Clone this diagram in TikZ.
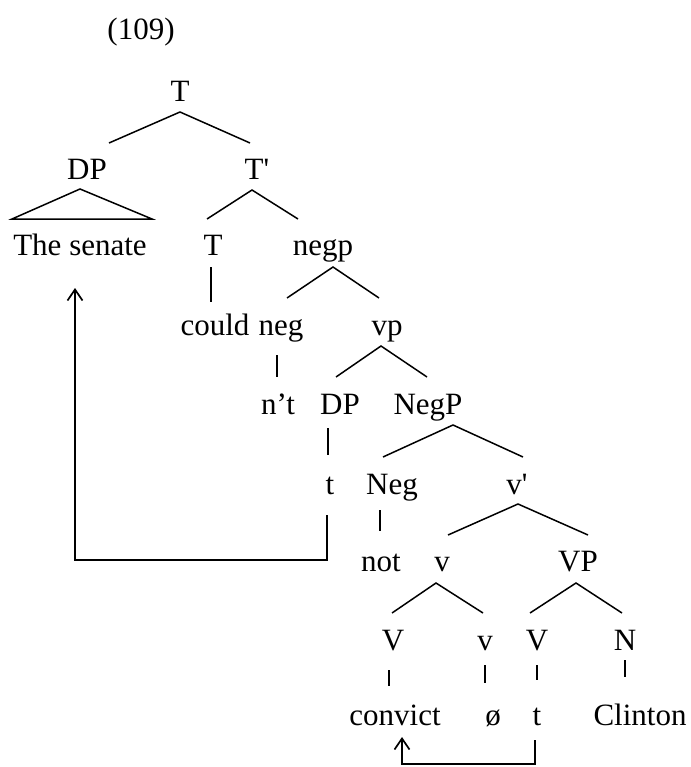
\documentclass[tikz,border=0pt]{standalone}
\usepackage{fontspec}
\setmainfont{Liberation Serif}[Ligatures=TeXOff]
\usetikzlibrary{calc,arrows.meta}
\begin{document}
\begin{tikzpicture}[x=1pt,y=-1pt,
  lbl/.style={anchor=base,inner sep=0pt,font=\fontsize{31}{36}\selectfont},
  edge/.style={line width=1.5pt,line join=miter},
  move/.style={line width=1.7pt,-{Straight Barb[length=11pt,width=15pt,line width=1.7pt]}}]
\useasboundingbox (0,0) rectangle (690,767);

% example number
\node[lbl] (exnum) at (141,40) {(109)};

% tree labels, placed by baseline
\node[lbl] (T0)     at (180,102) {T};
\node[lbl] (DPa)    at (87,180)  {DP};
\node[lbl] (Tbar)   at (257,180) {T'};
\node[lbl] (senate) at (80,255)  {The senate};
\node[lbl] (T1)     at (213,255) {T};
\node[lbl] (negp)   at (323,255) {negp};
\node[lbl] (could)  at (215,335) {could};
\node[lbl] (neg)    at (281,335) {neg};
\node[lbl] (vp)     at (387,335) {vp};
\node[lbl] (nt)     at (278,414) {n’t};
\node[lbl] (DPb)    at (340,414) {DP};
\node[lbl] (NegP)   at (428,414) {NegP};
\node[lbl] (t1)     at (330,494) {t};
\node[lbl] (Neg)    at (392,494) {Neg};
\node[lbl] (vbar)   at (517,494) {v'};
\node[lbl] (not)    at (381,571) {not};
\node[lbl] (v1)     at (442,571) {v};
\node[lbl] (VP)     at (578,571) {VP};
\node[lbl] (V1)     at (393,650) {V};
\node[lbl] (v2)     at (485,650) {v};
\node[lbl] (V2)     at (537,650) {V};
\node[lbl] (N)      at (625,650) {N};
\node[lbl] (convict) at (395,725) {convict};
\node[lbl] (null)   at (493,725) {ø};
\node[lbl] (t2)     at (537,725) {t};
\node[lbl] (Clinton) at (640,725) {Clinton};

% binary branches
\draw[edge] ($(DPa.base)+(22,-37)$) -- ($(T0.base)+(0,10)$) -- ($(Tbar.base)+(-7,-37)$);
\draw[edge] ($(T1.base)+(-6,-36)$) -- ($(Tbar.base)+(-5,10)$) -- ($(negp.base)+(-25,-36)$);
\draw[edge] ($(neg.base)+(6,-37)$) -- ($(negp.base)+(10,12)$) -- ($(vp.base)+(-8,-37)$);
\draw[edge] ($(DPb.base)+(-4,-37)$) -- ($(vp.base)+(-6,11)$) -- ($(NegP.base)+(-1,-37)$);
\draw[edge] ($(Neg.base)+(-9,-37)$) -- ($(NegP.base)+(25,11)$) -- ($(vbar.base)+(6,-37)$);
\draw[edge] ($(v1.base)+(6,-36)$) -- ($(vbar.base)+(1,10)$) -- ($(VP.base)+(10,-36)$);
\draw[edge] ($(V1.base)+(-1,-37)$) -- ($(v1.base)+(-6,12)$) -- ($(v2.base)+(-2,-37)$);
\draw[edge] ($(V2.base)+(-7,-37)$) -- ($(VP.base)+(-2,12)$) -- ($(N.base)+(-3,-37)$);

% triangle over the subject
\draw[edge] ($(senate.base)+(-68,-36)$) -- ($(DPa.base)+(-7,9)$) -- ($(senate.base)+(72,-36)$) -- cycle;

% unary branches
\draw[edge] ($(T1.base)+(-2,12)$) -- ($(could.base)+(-4,-33)$);
\draw[edge] ($(neg.base)+(-4,20)$) -- ($(nt.base)+(-1,-37)$);
\draw[edge] ($(DPb.base)+(-12,14)$) -- ($(t1.base)+(-2,-39)$);
\draw[edge] ($(Neg.base)+(-12,16)$) -- ($(not.base)+(-1,-40)$);
\draw[edge] ($(V1.base)+(-4,20)$) -- ($(convict.base)+(-6,-39)$);
\draw[edge] ($(v2.base)+(0,15)$) -- ($(null.base)+(-8,-42)$);
\draw[edge] ($(V2.base)+(0,15)$) -- ($(t2.base)+(0,-45)$);
\draw[edge] ($(N.base)+(0,10)$) -- ($(Clinton.base)+(-15,-48)$);

% movement arrows
\draw[move] ($(t1.base)+(-3,21)$) -- ($(t1.base)+(-3,66)$) -| ($(senate.base)+(-5,33)$);
\draw[move] ($(t2.base)+(-2,15)$) -- ($(t2.base)+(-2,39)$) -| ($(convict.base)+(7,12)$);
\end{tikzpicture}
\end{document}
